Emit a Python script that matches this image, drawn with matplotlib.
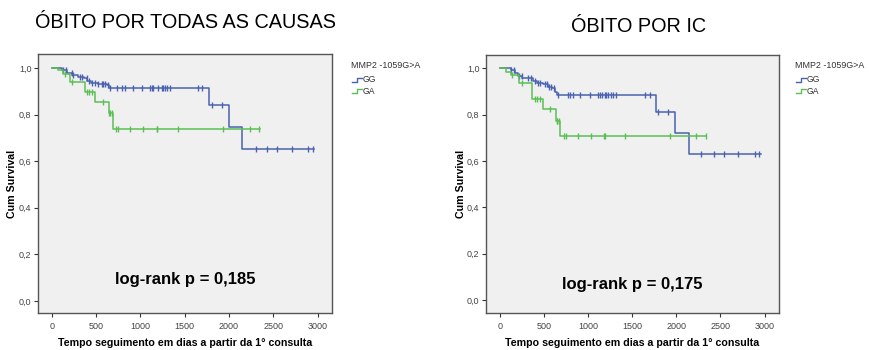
import numpy as np
import matplotlib
matplotlib.use('Agg')
import matplotlib.pyplot as plt
from matplotlib.lines import Line2D
from matplotlib.ticker import FuncFormatter

plt.rcParams['font.family'] = ['Liberation Sans', 'DejaVu Sans']

BLUE = '#4a62b0'
GREEN = '#5cbf55'
BG = '#f0f0f0'

# ---- panel 1: death from all causes ----
gg1_t = [0, 120, 170, 230, 300, 360, 400, 440, 520, 620, 650, 1780, 2000, 2150]
gg1_s = [1.0, 0.99, 0.98, 0.97, 0.962, 0.955, 0.945, 0.935, 0.93, 0.925, 0.915, 0.843, 0.745, 0.654]
gg1_cens = [131, 161, 226, 244, 319, 339, 395, 424, 451, 489, 526, 564, 582, 601, 639,
            658, 733, 790, 827, 921, 1016, 1110, 1129, 1147, 1204, 1241, 1260, 1279, 1298,
            1335, 1655, 1693, 1806, 1919, 2306, 2434, 2547, 2716, 2897, 2946]
ga1_t = [0, 75, 130, 210, 375, 490, 640, 690]
ga1_s = [1.0, 0.99, 0.973, 0.94, 0.898, 0.855, 0.808, 0.738]
ga1_cens = [150, 226, 395, 424, 451, 575, 645, 660, 677, 726, 752, 884, 1034, 1185,
            1189, 1422, 1937, 2238, 2336]
end1 = [2960, 2345]
p1 = 'log-rank p = 0,185'

# ---- panel 2: death from HF ----
gg2_t = [0, 130, 170, 210, 250, 380, 420, 490, 550, 590, 625, 645, 1770, 1985, 2140]
gg2_s = [1.0, 0.993, 0.978, 0.968, 0.959, 0.945, 0.935, 0.93, 0.921, 0.914, 0.899, 0.885,
         0.811, 0.722, 0.630]
gg2_cens = [132, 159, 219, 246, 321, 348, 396, 434, 453, 510, 529, 558, 585, 612, 660,
            774, 793, 830, 906, 1019, 1113, 1133, 1152, 1189, 1208, 1227, 1254, 1283, 1314,
            1642, 1699, 1793, 1906, 2284, 2427, 2540, 2699, 2888, 2937]
ga2_t = [0, 75, 130, 220, 370, 490, 635, 680]
ga2_s = [1.0, 0.985, 0.97, 0.938, 0.866, 0.823, 0.774, 0.708]
ga2_cens = [135, 246, 396, 423, 453, 566, 642, 653, 668, 728, 755, 887, 1031, 1181,
            1189, 1416, 1925, 2227, 2333]
end2 = [2956, 2333]
p2 = 'log-rank p = 0,175'

groups = ['GG', 'GA']
legend_title = 'MMP2 -1059G>A'
xticks = [0, 500, 1000, 1500, 2000, 2500, 3000]
yticks = [0.0, 0.2, 0.4, 0.6, 0.8, 1.0]


def km(ax, t, s, cens, end, color):
    t = np.array(t + [end])
    s = np.array(s + [s[-1]])
    ax.step(t, s, where='post', color=color, lw=1.1)
    idx = np.searchsorted(t, cens, side='right') - 1
    ax.plot(cens, s[idx], ls='none', marker='|', ms=5, mew=1.0, color=color)


fig = plt.figure(figsize=(8.7, 3.5), dpi=100)
panels = [
    ([0.0433, 0.1057, 0.3383, 0.7400], (-0.0515, 1.060),
     (gg1_t, gg1_s, gg1_cens, ga1_t, ga1_s, ga1_cens, end1), p1, (1504, 0.094),
     'ÓBITO POR TODAS AS CAUSAS', (186, 22), 351, -0.070),
    ([0.5583, 0.1066, 0.3371, 0.7363], (-0.055, 1.057),
     (gg2_t, gg2_s, gg2_cens, ga2_t, ga2_s, ga2_cens, end2), p2, (1495, 0.065),
     'ÓBITO POR IC', (639, 26), 795, -0.068),
]

for rect, ylim, d, ptxt, ppos, title, tpos, lx, ylx in panels:
    ax = fig.add_axes(rect)
    ax.set_facecolor(BG)
    km(ax, d[0], d[1], d[2], d[6][0], BLUE)
    km(ax, d[3], d[4], d[5], d[6][1], GREEN)
    ax.set_xlim(-160, 3163)
    ax.set_ylim(*ylim)
    ax.set_xticks(xticks)
    ax.set_yticks(yticks)
    ax.yaxis.set_major_formatter(FuncFormatter(lambda v, p: ('%.1f' % v).replace('.', ',')))
    ax.tick_params(labelsize=6.5, labelcolor='#444444', length=3, width=0.8, color='#333333')
    ax.tick_params(axis='y', pad=1.5)
    for sp in ax.spines.values():
        sp.set_color('#555555')
        sp.set_linewidth(1.0)
    ax.set_ylabel('Cum Survival', fontsize=7.7, fontweight='bold')
    ax.yaxis.set_label_coords(ylx, 0.5)
    ax.set_xlabel('Tempo seguimento em dias a partir da 1° consulta', fontsize=7.7,
                  fontweight='bold', labelpad=5)
    ax.text(ppos[0], ppos[1], ptxt, fontsize=12, fontweight='bold', ha='center', va='center')
    fig.text(tpos[0] / 870, 1 - tpos[1] / 350, title, fontsize=14.3, ha='center', va='center')

    # legend outside on the right
    fig.text(lx / 870, 1 - 65 / 350, legend_title, fontsize=6.4, ha='left', va='center',
             color='#333333')
    for i, (g, c) in enumerate(zip(groups, [BLUE, GREEN])):
        yc = 1 - (80 + i * 11) / 350
        x0 = (lx + 1) / 870
        xm = (lx + 6) / 870
        x1 = (lx + 11) / 870
        lo, hi = yc - 2 / 350, yc + 2 / 350
        fig.add_artist(Line2D([x0, xm, xm, x1], [lo, lo, hi, hi], color=c, lw=1.0,
                              transform=fig.transFigure))
        fig.text((lx + 12) / 870, yc, g, fontsize=6.2, ha='left', va='center', color='#333333')

fig.savefig('out.png', dpi=100, facecolor='white')
